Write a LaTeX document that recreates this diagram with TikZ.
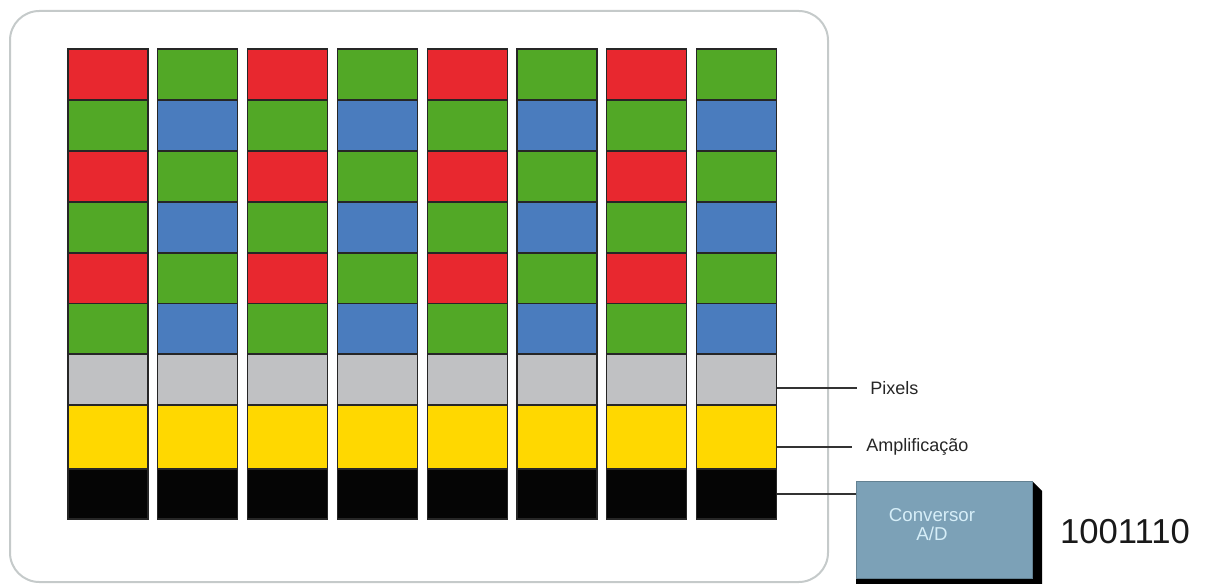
\documentclass[tikz,border=0pt]{standalone}
\usepackage{fontspec}
\setmainfont{Liberation Sans}
\usetikzlibrary{calc}
\definecolor{pc0}{HTML}{E8282F}
\definecolor{pc1}{HTML}{52A826}
\definecolor{pc2}{HTML}{4A7CBE}
\definecolor{pc3}{HTML}{C0C1C3}
\definecolor{pc4}{HTML}{FFD800}
\definecolor{pc5}{HTML}{050505}
\definecolor{framecol}{HTML}{C5CACA}
\definecolor{adcfill}{HTML}{7CA1B7}
\definecolor{adctext}{HTML}{D6EEF8}
\definecolor{conncol}{HTML}{333333}
\tikzset{
  cell/.style={draw=black!85, line width=0.8pt, minimum width=60pt, inner sep=0pt},
  frame/.style={draw=framecol, line width=1.5pt, rounded corners=22pt, inner sep=0pt},
  conn/.style={draw=conncol, line width=1.1pt},
  lab/.style={anchor=west, font=\fontsize{13.5}{15}\selectfont, text=black!85, inner xsep=9.75pt, inner ysep=0pt},
  adcbox/.style={fill=adcfill, draw=adcfill!80!black, line width=0.6pt, minimum width=132pt, minimum height=72.75pt, inner sep=0pt},
  adclab/.style={align=center, text=adctext, font=\fontsize{14}{14}\selectfont, xshift=-9pt, yshift=3.5pt, inner sep=0pt},
}
\begin{document}
\begin{tikzpicture}[x=0.75pt,y=-0.75pt]
\useasboundingbox (0,0) rectangle (1205,584);
\node[frame, minimum width=613.5pt, minimum height=428.25pt] (sensor) at (419,296.5) {};
\foreach \i in {0,...,7}{
  \pgfmathsetmacro\cx{108+89.8*\i}
  \foreach \j/\t/\b in {1/49/100,2/100/151,3/151/202,4/202/253,5/253/303.5,6/303.5/354,7/354/405,8/405/469,9/469/519}{
    \pgfmathtruncatemacro\odd{mod(\i,2)}
    \pgfmathtruncatemacro\jodd{mod(\j,2)}
    \pgfmathtruncatemacro\ci{\j>6 ? \j-4 : (\odd==0 ? (\jodd==1 ? 0 : 1) : (\jodd==1 ? 1 : 2))}
    \pgfmathsetmacro\hh{(\b-\t)*0.75}
    \pgfmathsetmacro\cy{(\t+\b)/2}
    \node[cell, fill=pc\ci, minimum height=\hh pt] (c\i-\j) at (\cx,\cy) {};
  }
}
\node[lab] (pix) at (857,388) {Pixels};
\node[lab, inner xsep=10.5pt] (amp) at (852,447) {Amplificação};
\fill[black] (1032,481) -- (1042,491) -- (1042,584) -- (856,584) -- (856,578) -- (1032,578) -- cycle;
\node[adcbox, label={[adclab]center:Conversor\\A/D}] (adc) at (944,529.5) {};
\node[anchor=center, font=\fontsize{26}{28}\selectfont, text=black!90] (bits) at (1125,532) {1001110};
\draw[conn] (pix.west -| c7-7.east) -- (pix.west);
\draw[conn] (amp.west -| c7-8.east) -- (amp.west);
\draw[conn] (c7-9.east) -- (c7-9.east -| adc.west);
\end{tikzpicture}
\end{document}
